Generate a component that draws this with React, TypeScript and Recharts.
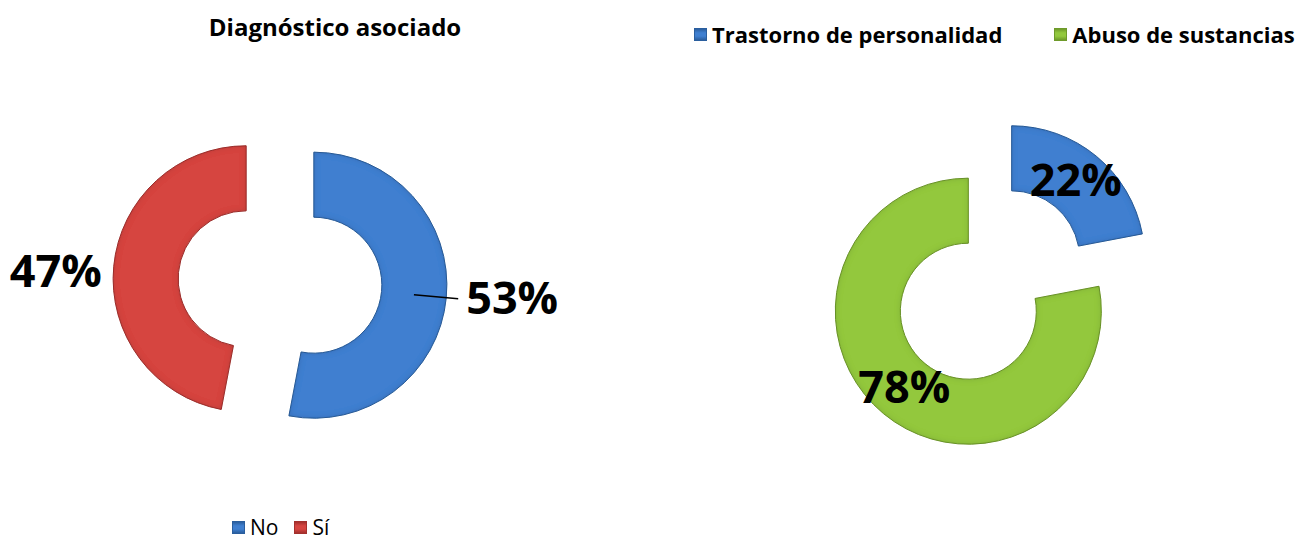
import React from 'react';
import { PieChart, Pie, Cell, Sector, Legend } from 'recharts';

// ---- data ----
const diagTitle = 'Diagnóstico asociado';
const diagCategories = ['No', 'Sí'];
const diagValues = [53, 47];
const diagColors = ['#3F7FD0', '#D64541'];
const diagEdgeColors = ['#2A5E9E', '#A3302D'];
const diagLeaderLines = [true, false];

const typeCategories = ['Trastorno de personalidad', 'Abuso de sustancias'];
const typeValues = [22, 78];
const typeColors = ['#3F7FD0', '#93C83E'];
const typeEdgeColors = ['#2A5E9E', '#6E9A2A'];

const diagData = diagCategories.map((name, i) => ({ name, value: diagValues[i] }));
const typeData = typeCategories.map((name, i) => ({ name, value: typeValues[i] }));

const RADIAN = Math.PI / 180;
const EXPLODE = 34;
const OUTER = 133;
const INNER = 68;
const FONT = '"Open Sans", "Noto Sans", sans-serif';

const unit = (midAngle: number) => ({
  x: Math.cos(-midAngle * RADIAN),
  y: Math.sin(-midAngle * RADIAN),
});

const makeShape = (edges: string[]) => (props: any) => {
  const { cx, cy, midAngle, innerRadius, outerRadius, startAngle, endAngle, fill, index } = props;
  const u = unit(midAngle);
  return (
    <Sector
      cx={cx + EXPLODE * u.x}
      cy={cy + EXPLODE * u.y}
      innerRadius={innerRadius}
      outerRadius={outerRadius}
      startAngle={startAngle}
      endAngle={endAngle}
      fill={fill}
      stroke={edges[index] || fill}
      strokeWidth={1}
      filter="url(#bevel)"
    />
  );
};

const renderDiagLabel = (props: any) => {
  const { cx, cy, midAngle, innerRadius, outerRadius, percent, index } = props;
  const u = unit(midAngle);
  const ecx = cx + EXPLODE * u.x;
  const ecy = cy + EXPLODE * u.y;
  const midR = (innerRadius + outerRadius) / 2;
  const lineEnd = outerRadius + 12;
  const showLine = diagLeaderLines[index];
  const textR = showLine ? lineEnd + 8 : lineEnd;
  const tx = ecx + textR * u.x;
  const ty = ecy + textR * u.y + (showLine ? 0 : 8);
  return (
    <g key={`dl-${index}`}>
      {showLine && (
        <line
          x1={ecx + midR * u.x}
          y1={ecy + midR * u.y}
          x2={ecx + lineEnd * u.x}
          y2={ecy + lineEnd * u.y}
          stroke="#000"
          strokeWidth={1.5}
        />
      )}
      <text
        x={tx}
        y={ty}
        dy="0.31em"
        textAnchor={u.x >= 0 ? 'start' : 'end'}
        fontFamily={FONT}
        fontWeight={700}
        fontSize={45}
        fill="#000"
      >
        {`${Math.round(percent * 100)}%`}
      </text>
    </g>
  );
};

const renderTypeLabel = (props: any) => {
  const { cx, cy, midAngle, innerRadius, outerRadius, percent, index } = props;
  const u = unit(midAngle);
  const ecx = cx + EXPLODE * u.x;
  const ecy = cy + EXPLODE * u.y;
  const midR = (innerRadius + outerRadius) / 2;
  return (
    <text
      key={`tl-${index}`}
      x={ecx + midR * u.x}
      y={ecy + midR * u.y}
      dy="0.33em"
      textAnchor="middle"
      fontFamily={FONT}
      fontWeight={700}
      fontSize={45}
      fill="#000"
    >
      {`${Math.round(percent * 100)}%`}
    </text>
  );
};

const LegendSquare = ({ color, edge }: { color: string; edge: string }) => (
  <span
    style={{
      display: 'inline-block',
      width: 13,
      height: 13,
      boxSizing: 'border-box',
      border: `1px solid ${edge}`,
      background: `linear-gradient(180deg, ${edge} 0%, ${color} 35%, ${color} 65%, ${edge} 100%)`,
      marginRight: 5,
    }}
  />
);

const makeLegend = (
  names: string[],
  colors: string[],
  edges: string[],
  bold: boolean,
  gap: number,
  size: number,
  lineH: number
) => () => (
  <div
    style={{
      display: 'flex',
      alignItems: 'center',
      fontFamily: FONT,
      fontSize: size,
      lineHeight: `${lineH}px`,
      fontWeight: bold ? 700 : 400,
      color: '#000',
      whiteSpace: 'nowrap',
    }}
  >
    {names.map((n, i) => (
      <span key={n} style={{ display: 'inline-flex', alignItems: 'center', marginRight: i < names.length - 1 ? gap : 0 }}>
        <LegendSquare color={colors[i]} edge={edges[i]} />
        <span>{n}</span>
      </span>
    ))}
  </div>
);

export default function App() {
  return (
    <div style={{ position: 'absolute', left: 0, top: 0, width: 1300, height: 541, background: '#fff', overflow: 'hidden' }}>
      <svg width={0} height={0} style={{ position: 'absolute' }}>
        <defs>
          <filter id="bevel" x="-20%" y="-20%" width="140%" height="140%">
            <feGaussianBlur in="SourceAlpha" stdDeviation="3" result="blur" />
            <feComposite in="SourceAlpha" in2="blur" operator="out" result="edge" />
            <feFlood floodColor="#000" floodOpacity="0.3" result="dark" />
            <feComposite in="dark" in2="edge" operator="in" result="edgeShade" />
            <feMerge>
              <feMergeNode in="SourceGraphic" />
              <feMergeNode in="edgeShade" />
            </feMerge>
          </filter>
        </defs>
      </svg>

      <div
        style={{
          position: 'absolute',
          left: 0,
          top: 12,
          width: 670,
          textAlign: 'center',
          fontFamily: FONT,
          fontWeight: 700,
          fontSize: 24,
          lineHeight: '30px',
          color: '#000',
        }}
      >
        {diagTitle}
      </div>

      <div style={{ position: 'absolute', left: 0, top: 0 }}>
        <PieChart width={650} height={541}>
          <Pie
            data={diagData}
            dataKey="value"
            nameKey="name"
            cx={275}
            cy={277}
            startAngle={90}
            endAngle={-270}
            innerRadius={INNER}
            outerRadius={OUTER}
            stroke="none"
            shape={makeShape(diagEdgeColors)}
            label={renderDiagLabel}
            labelLine={false}
            isAnimationActive={false}
          >
            {diagData.map((d, i) => (
              <Cell key={d.name} fill={diagColors[i]} />
            ))}
          </Pie>
          <Legend
            content={makeLegend(diagCategories, diagColors, diagEdgeColors, false, 16, 21, 20)}
            wrapperStyle={{ left: 232, top: 517, width: 'auto', height: 20 }}
          />
        </PieChart>
      </div>

      <div style={{ position: 'absolute', left: 650, top: 0 }}>
        <PieChart width={650} height={541}>
          <Pie
            data={typeData}
            dataKey="value"
            nameKey="name"
            cx={335}
            cy={280}
            startAngle={90}
            endAngle={-270}
            innerRadius={INNER}
            outerRadius={OUTER}
            stroke="none"
            shape={makeShape(typeEdgeColors)}
            label={renderTypeLabel}
            labelLine={false}
            isAnimationActive={false}
          >
            {typeData.map((d, i) => (
              <Cell key={d.name} fill={typeColors[i]} />
            ))}
          </Pie>
          <Legend
            content={makeLegend(typeCategories, typeColors, typeEdgeColors, true, 52, 22, 22)}
            wrapperStyle={{ left: 44, top: 23, width: 'auto', height: 22 }}
          />
        </PieChart>
      </div>
    </div>
  );
}
